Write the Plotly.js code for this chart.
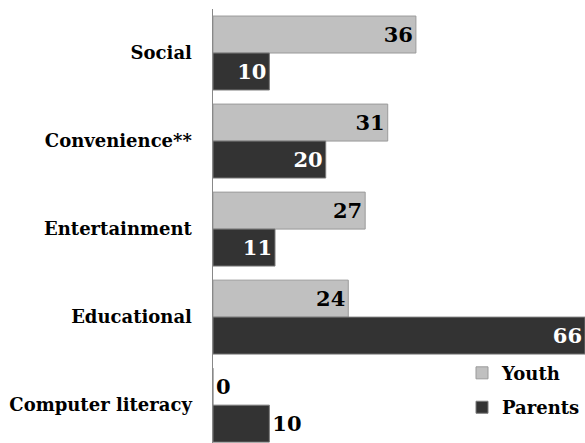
<!DOCTYPE html>
<html>
<head>
<meta charset="utf-8">
<script src="https://cdn.plot.ly/plotly-3.0.1.min.js"></script>
<style>html,body{margin:0;padding:0;background:#fff;}#chart{width:585px;height:443px;}</style>
</head>
<body>
<div id="chart"></div>
<script>
const categories = ["Social", "Convenience**", "Entertainment", "Educational", "Computer literacy"];
const youth = [36, 31, 27, 24, 0];
const parents = [10, 20, 11, 66, 10];
const seriesNames = ["Youth", "Parents"];

const fontFam = "DejaVu Serif";

const traces = [
  {
    type: "bar", orientation: "h", name: seriesNames[0], legendgroup: "g1",
    y: categories, x: youth,
    text: youth.map(String),
    textposition: youth.map(v => v === 0 ? "outside" : "inside"),
    insidetextanchor: "end",
    textangle: 0,
    constraintext: "none",
    cliponaxis: false,
    textfont: {family: fontFam, size: 21, color: "#000", weight: "bold"},
    outsidetextfont: {family: fontFam, size: 21, color: "#000", weight: "bold"},
    insidetextfont: {family: fontFam, size: 21, color: "#000", weight: "bold"},
    marker: {color: "#c0c0c0", line: {color: "#9a9a9a", width: 1}},
    hoverinfo: "none"
  },
  {
    type: "bar", orientation: "h", name: seriesNames[1], legendgroup: "g2",
    y: categories, x: parents,
    text: parents.map(String),
    textposition: ["inside", "inside", "inside", "inside", "outside"],
    insidetextanchor: "end",
    textangle: 0,
    constraintext: "none",
    cliponaxis: false,
    textfont: {family: fontFam, size: 21, color: "#fff", weight: "bold"},
    insidetextfont: {family: fontFam, size: 21, color: "#fff", weight: "bold"},
    outsidetextfont: {family: fontFam, size: 21, color: "#000", weight: "bold"},
    marker: {color: "#333333", line: {color: "#7a7a7a", width: 1}},
    hoverinfo: "none"
  }
];

const layout = {
  width: 585, height: 443,
  margin: {l: 213, r: 0, t: 9, b: 0},
  paper_bgcolor: "#fff", plot_bgcolor: "#fff",
  barmode: "group",
  bargap: 0.16,
  bargroupgap: 0,
  font: {family: fontFam, color: "#000"},
  showlegend: true,
  legend: {
    x: 1, xanchor: "right", y: 0.04, yanchor: "bottom",
    bgcolor: "rgba(0,0,0,0)",
    font: {family: fontFam, size: 18, color: "#000", weight: "bold"},
    traceorder: "grouped",
    tracegroupgap: 8,
    itemwidth: 30
  },
  xaxis: {
    range: [0, 66], visible: false, showgrid: false, zeroline: false, fixedrange: true
  },
  yaxis: {
    type: "category",
    range: [4.43, -0.5],
    showline: true, linecolor: "#888", linewidth: 1.5,
    showgrid: false, zeroline: false, ticks: "",
    ticklabelstandoff: 16,
    tickfont: {family: fontFam, size: 18, color: "#000", weight: "bold"},
    fixedrange: true
  }
};

Plotly.newPlot("chart", traces, layout, {displayModeBar: false, staticPlot: true});
</script>
</body>
</html>
